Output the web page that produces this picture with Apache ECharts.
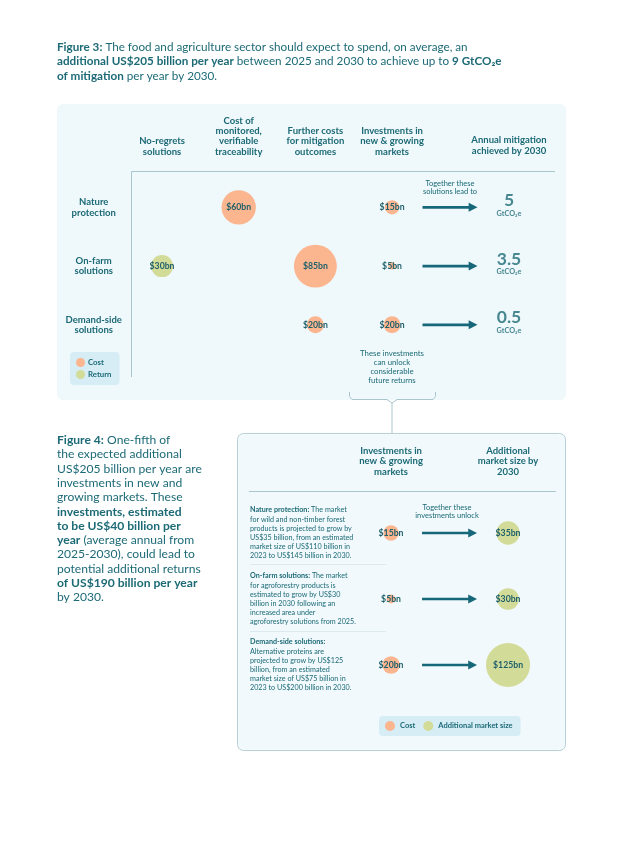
<!DOCTYPE html>
<html>
<head>
<meta charset="utf-8">
<script src="https://cdn.jsdelivr.net/npm/echarts@6/dist/echarts.min.js"></script>
<style>
  html, body { margin: 0; padding: 0; background: #ffffff; }
  #chart { width: 620px; height: 853px; }
</style>
</head>
<body>
<div id="chart"></div>
<script>
// figure 3 : columns and rows
var costColumns = ['No-regrets\nsolutions', 'Cost of\nmonitored,\nverifiable\ntraceability', 'Further costs\nfor mitigation\noutcomes', 'Investments in\nnew & growing\nmarkets'];
var solutions = ['Nature\nprotection', 'On-farm\nsolutions', 'Demand-side\nsolutions'];
// US$ bn per year, by solution (null = none)
var noRegretsReturn = [null, 30, null];
var traceabilityCost = [60, null, null];
var furtherCost = [null, 85, 20];
var newMarketsCost = [15, 5, 20];
// GtCO2e per year by 2030
var mitigation = [5, 3.5, 0.5];

// figure 4
var marketColumns = ['Investments in\nnew & growing\nmarkets', '', 'Additional\nmarket size by\n2030'];
var marketRows = ['Nature protection', 'On-farm solutions', 'Demand-side solutions'];
var marketInvest = [15, 5, 20];
var marketSize = [35, 30, 125];
var marketNotes = [
	'{b|Nature protection:} The market\nfor wild and non-timber forest\nproducts is projected to grow by\nUS$35 billion, from an estimated\nmarket size of US$110 billion in\n2023 to US$145 billion in 2030.',
	'{b|On-farm solutions:} The market\nfor agroforestry products is\nestimated to grow by US$30\nbillion in 2030 following an\nincreased area under\nagroforestry solutions from 2025.',
	'{b|Demand-side solutions:}\nAlternative proteins are\nprojected to grow by US$125\nbillion, from an estimated\nmarket size of US$75 billion in\n2023 to US$200 billion in 2030.'
];

var TEAL = '#1c6a76';
var ORANGE = '#fbb58f';
var GREEN = '#d3db98';
var LINE = '#a9c6cf';
var FONT = 'Lato';
var ARROW = 'path://M0,3.2L47,3.2L47,0L56,4.5L47,9L47,5.8L0,5.8Z';

function toPoints(values, col) {
	var out = [];
	values.forEach(function (v, i) {
		if (v !== null) out.push([col, i, v]);
	});
	return out;
}

var bubbleLabel = {
	show : true,
	position : 'inside',
	color : '#1d5f6a',
	fontFamily : FONT,
	fontWeight : 'bold',
	fontSize : 8.7,
	formatter : function (p) { return '$' + p.value[2] + 'bn'; }
};

function size1(v) { return 2.5 * Math.pow(v[2], 0.64); }
function size2(v) { return 3.94 * Math.sqrt(v[2]); }

var headerLabel = {
	interval : 0,
	color : TEAL,
	fontFamily : FONT,
	fontWeight : 'bold',
	fontSize : 9.5,
	lineHeight : 10.4
};

var chart = echarts.init(document.getElementById('chart'), null, { renderer : 'canvas' });

var option = {
	backgroundColor : '#ffffff',
	animation : false,
	grid : [
		{ left : 123.7, width : 306.7, top : 178, height : 176.2 },
		{ left : 420.5, width : 118, top : 178, height : 176.2 },
		{ left : 361.8, width : 175.5, top : 500, height : 198 }
	],
	xAxis : [
		{ gridIndex : 0, type : 'category', position : 'top', data : costColumns,
			axisLine : { show : false }, axisTick : { show : false },
			axisLabel : Object.assign({ margin : 21 }, headerLabel) },
		{ gridIndex : 1, type : 'category', position : 'top', data : ['', 'Annual mitigation\nachieved by 2030'],
			axisLine : { show : false }, axisTick : { show : false },
			axisLabel : Object.assign({ margin : 22 }, headerLabel) },
		{ gridIndex : 2, type : 'category', position : 'top', data : marketColumns,
			axisLine : { show : false }, axisTick : { show : false },
			axisLabel : Object.assign({ margin : 23 }, headerLabel) }
	],
	yAxis : [
		{ gridIndex : 0, type : 'category', inverse : true, data : solutions,
			axisLine : { show : false }, axisTick : { show : false }, splitLine : { show : false },
			axisLabel : Object.assign({ margin : 30, align : 'center' }, headerLabel) },
		{ gridIndex : 1, type : 'category', inverse : true, data : solutions,
			axisLine : { show : false }, axisTick : { show : false }, axisLabel : { show : false } },
		{ gridIndex : 2, type : 'category', inverse : true, data : marketRows,
			axisLine : { show : false }, axisTick : { show : false }, splitLine : { show : false },
			axisLabel : {
				interval : 0,
				margin : 111.8,
				align : 'left',
				color : TEAL,
				fontFamily : FONT,
				fontSize : 7.2,
				lineHeight : 9.2,
				formatter : function (v, i) { return marketNotes[i]; },
				rich : {
					b : { color : TEAL, fontFamily : FONT, fontSize : 7.2, fontWeight : 'bold', lineHeight : 9.2 }
				}
			} }
	],
	legend : [
		{ left : 70, top : 352, orient : 'vertical', data : ['Cost', 'Return'],
			backgroundColor : '#d6edf6', borderRadius : 4, padding : [6, 8, 6, 6],
			itemGap : 3, itemWidth : 9, itemHeight : 9, icon : 'circle', selectedMode : false,
			textStyle : { color : TEAL, fontFamily : FONT, fontWeight : 'bold', fontSize : 7.8, padding : [0, 0, 0, -2] } },
		{ left : 379, top : 716, orient : 'horizontal', data : ['Cost', 'Additional market size'],
			backgroundColor : '#d6edf6', borderRadius : 4, padding : [5, 8, 5, 6],
			itemGap : 8, itemWidth : 10, itemHeight : 10, icon : 'circle', selectedMode : false,
			textStyle : { color : TEAL, fontFamily : FONT, fontWeight : 'bold', fontSize : 7.5 } }
	],
	series : [
		{ name : 'Cost', type : 'scatter', xAxisIndex : 0, yAxisIndex : 0,
			itemStyle : { color : ORANGE, opacity : 1 }, symbolSize : size1, label : bubbleLabel,
			data : toPoints(traceabilityCost, 1).concat(toPoints(furtherCost, 2), toPoints(newMarketsCost, 3)) },
		{ name : 'Return', type : 'scatter', xAxisIndex : 0, yAxisIndex : 0,
			itemStyle : { color : GREEN, opacity : 1 }, symbolSize : size1, label : bubbleLabel,
			data : toPoints(noRegretsReturn, 0) },
		{ name : 'arrows1', type : 'scatter', xAxisIndex : 1, yAxisIndex : 1, silent : true,
			symbol : ARROW, symbolSize : [55, 9], itemStyle : { color : '#17677a', opacity : 1 },
			data : solutions.map(function (s, i) { return [0, i]; }) },
		{ name : 'Mitigation', type : 'scatter', xAxisIndex : 1, yAxisIndex : 1, symbolSize : 0,
			label : {
				show : true, position : 'inside', offset : [0, -2],
				formatter : function (p) { return '{v|' + p.value[2] + '}\n{u|GtCO₂e}'; },
				rich : {
					v : { color : TEAL, fontFamily : FONT, fontWeight : 'bold', fontSize : 17.5, lineHeight : 16, align : 'center' },
					u : { color : TEAL, fontFamily : FONT, fontWeight : 'bold', fontSize : 7.3, lineHeight : 10, align : 'center' }
				}
			},
			data : toPoints(mitigation, 1) },
		{ name : 'Cost', type : 'scatter', xAxisIndex : 2, yAxisIndex : 2,
			itemStyle : { color : ORANGE, opacity : 1 }, symbolSize : size2, label : bubbleLabel,
			data : toPoints(marketInvest, 0) },
		{ name : 'arrows2', type : 'scatter', xAxisIndex : 2, yAxisIndex : 2, silent : true,
			symbol : ARROW, symbolSize : [55, 9], itemStyle : { color : '#17677a', opacity : 1 },
			data : marketRows.map(function (s, i) { return [1, i]; }) },
		{ name : 'Additional market size', type : 'scatter', xAxisIndex : 2, yAxisIndex : 2,
			itemStyle : { color : GREEN, opacity : 1 }, symbolSize : size2, label : bubbleLabel,
			data : toPoints(marketSize, 2) }
	],
	graphic : [
		// panels
		{ type : 'rect', z : -10, shape : { x : 57, y : 104, width : 509, height : 296, r : 6 },
			style : { fill : '#eff8fb' } },
		{ type : 'rect', z : -10, shape : { x : 237.5, y : 433.5, width : 328, height : 317, r : 6 },
			style : { fill : '#f1f9fc', stroke : '#b8d0d8', lineWidth : 1 } },
		// panel 1 axes lines
		{ type : 'polyline', shape : { points : [[555, 171.5], [131.5, 171.5], [131.5, 377]] },
			style : { stroke : LINE, lineWidth : 1, fill : null } },
		// brace + connector
		{ type : 'polyline', shape : { points : [[349.5, 392], [349.5, 396.5], [352, 399.5], [387, 399.5], [392, 403], [397, 399.5], [433, 399.5], [435.5, 396.5], [435.5, 392]] },
			style : { stroke : LINE, lineWidth : 1, fill : null } },
		{ type : 'line', shape : { x1 : 392, y1 : 403, x2 : 392, y2 : 433 }, style : { stroke : LINE, lineWidth : 1 } },
		// panel 2 lines
		{ type : 'line', shape : { x1 : 249, y1 : 491.5, x2 : 556, y2 : 491.5 }, style : { stroke : LINE, lineWidth : 1 } },
		{ type : 'line', shape : { x1 : 250, y1 : 564.5, x2 : 386, y2 : 564.5 }, style : { stroke : '#dceaef', lineWidth : 1 } },
		{ type : 'line', shape : { x1 : 250, y1 : 631.5, x2 : 386, y2 : 631.5 }, style : { stroke : '#dceaef', lineWidth : 1 } },
		// notes
		{ type : 'text', x : 450, y : 179, style : { text : 'Together these\nsolutions lead to', align : 'center',
			fill : TEAL, fontFamily : FONT, fontSize : 7.5, lineHeight : 8.6 } },
		{ type : 'text', x : 392, y : 349, style : { text : 'These investments\ncan unlock\nconsiderable\nfuture returns', align : 'center',
			fill : TEAL, fontFamily : FONT, fontSize : 7.8, lineHeight : 9.1 } },
		{ type : 'text', x : 447, y : 503, style : { text : 'Together these\ninvestments unlock', align : 'center',
			fill : TEAL, fontFamily : FONT, fontSize : 7.5, lineHeight : 8.6 } },
		// title
		{ type : 'text', x : 57, y : 39.5, style : {
			text : '{b|Figure 3:} The food and agriculture sector should expect to spend, on average, an\n{b|additional US$205 billion per year} between 2025 and 2030 to achieve up to {b|9 GtCO₂e}\n{b|of mitigation} per year by 2030.',
			fill : TEAL, fontFamily : FONT, fontSize : 11.7, lineHeight : 14.6,
			rich : { b : { fill : TEAL, fontFamily : FONT, fontSize : 11.7, fontWeight : 'bold', lineHeight : 14.6 } } } },
		// figure 4 text
		{ type : 'text', x : 57, y : 433, style : {
			text : '{b|Figure 4:} One-fifth of\nthe expected additional\nUS$205 billion per year are\ninvestments in new and\ngrowing markets. These\n{b|investments, estimated}\n{b|to be US$40 billion per}\n{b|year} (average annual from\n2025-2030), could lead to\npotential additional returns\n{b|of US$190 billion per year}\nby 2030.',
			fill : TEAL, fontFamily : FONT, fontSize : 12.1, lineHeight : 14.3,
			rich : { b : { fill : TEAL, fontFamily : FONT, fontSize : 12.1, fontWeight : 'bold', lineHeight : 14.3 } } } }
	]
};

chart.setOption(option, true);
</script>
</body>
</html>
